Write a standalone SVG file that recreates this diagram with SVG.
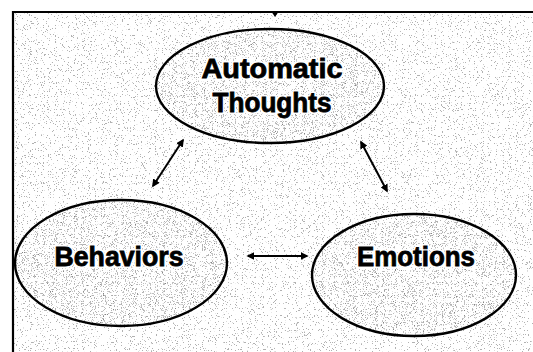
<svg xmlns="http://www.w3.org/2000/svg" width="533" height="352" viewBox="0 0 533 352">
  <defs>
    <marker id="head" viewBox="0 0 10 10" refX="8" refY="5" markerWidth="4" markerHeight="4" orient="auto-start-reverse">
      <path d="M0,0 L10,5 L0,10 Z" fill="#000"/>
    </marker>
    <filter id="grain" x="0" y="0" width="100%" height="100%">
      <feTurbulence type="fractalNoise" baseFrequency="0.85" numOctaves="2" seed="7" result="n"/>
      <feColorMatrix in="n" type="matrix" values="0 0 0 0 0  0 0 0 0 0  0 0 0 0 0  24 0 0 0 -15.5"/>
    </filter>
    <filter id="grain-dense" x="0" y="0" width="100%" height="100%">
      <feTurbulence type="fractalNoise" baseFrequency="0.9" numOctaves="2" seed="3" result="n"/>
      <feColorMatrix in="n" type="matrix" values="0 0 0 0 0  0 0 0 0 0  0 0 0 0 0  24 0 0 0 -15"/>
    </filter>
    <clipPath id="ovals">
      <ellipse cx="270" cy="86" rx="114" ry="57"/>
      <ellipse cx="121" cy="263" rx="106" ry="63"/>
      <ellipse cx="414" cy="275" rx="102" ry="61"/>
    </clipPath>
    <style>
      .node ellipse { fill: none; stroke: #000; stroke-width: 2.4; }
      .label { font-family: "Liberation Sans", Arial, sans-serif; font-weight: bold; fill: #000; stroke: #000; stroke-width: 0.8; text-anchor: middle; }
      .halo { stroke: #fff; stroke-width: 4; fill: #fff; }
      .link { stroke: #000; stroke-width: 2; fill: none; marker-start: url(#head); marker-end: url(#head); }
    </style>
  </defs>

  <!-- paper with light print grain, a little heavier inside the ovals -->
  <rect width="533" height="352" fill="#fff"/>
  <rect x="13" y="12" width="520" height="340" fill="#000" opacity="0.3" filter="url(#grain)"/>
  <rect x="13" y="12" width="520" height="340" fill="#000" opacity="0.25" filter="url(#grain-dense)" clip-path="url(#ovals)"/>

  <!-- frame -->
  <path d="M13,352 V12 H533" fill="none" stroke="#000" stroke-width="2.2"/>
  <path d="M271,11 L279,11 L275,17 Z" fill="#000"/>

  <g id="connectors">
    <line class="link" x1="183" y1="140" x2="153" y2="186"/>
    <line class="link" x1="361" y1="142" x2="387" y2="191"/>
    <line class="link" x1="248" y1="256" x2="307" y2="256"/>
  </g>

  <g id="automatic-thoughts" class="node">
    <ellipse cx="270" cy="86" rx="114" ry="57"/>
    <text class="label halo" x="272" y="78" font-size="28" textLength="141" lengthAdjust="spacingAndGlyphs">Automatic</text>
    <text class="label" x="272" y="78" font-size="28" textLength="141" lengthAdjust="spacingAndGlyphs">Automatic</text>
    <text class="label halo" x="272" y="112" font-size="28" textLength="119" lengthAdjust="spacingAndGlyphs">Thoughts</text>
    <text class="label" x="272" y="112" font-size="28" textLength="119" lengthAdjust="spacingAndGlyphs">Thoughts</text>
  </g>

  <g id="behaviors" class="node">
    <ellipse cx="121" cy="263" rx="106" ry="63"/>
    <text class="label halo" x="119" y="266" font-size="27" textLength="129" lengthAdjust="spacingAndGlyphs">Behaviors</text>
    <text class="label" x="119" y="266" font-size="27" textLength="129" lengthAdjust="spacingAndGlyphs">Behaviors</text>
  </g>

  <g id="emotions" class="node">
    <ellipse cx="414" cy="275" rx="102" ry="61"/>
    <text class="label halo" x="416" y="266" font-size="27" textLength="118" lengthAdjust="spacingAndGlyphs">Emotions</text>
    <text class="label" x="416" y="266" font-size="27" textLength="118" lengthAdjust="spacingAndGlyphs">Emotions</text>
  </g>
</svg>
